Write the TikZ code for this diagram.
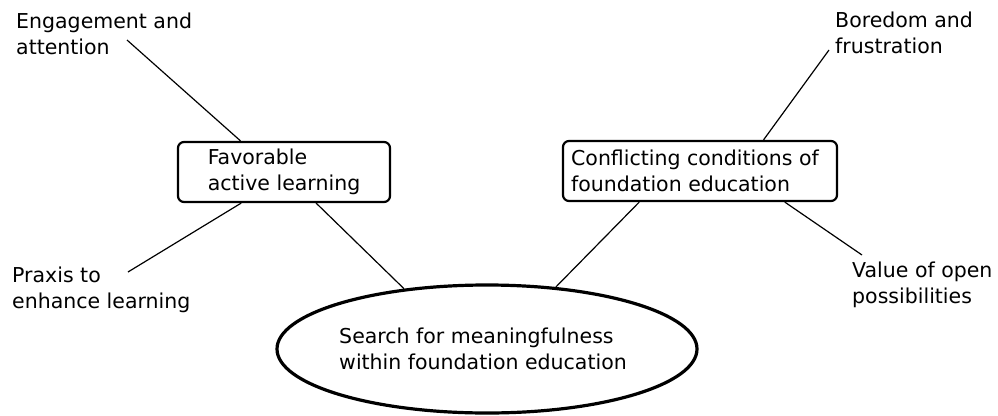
\documentclass[tikz,border=0pt]{standalone}
\usepackage{fontspec}
\setmainfont{DejaVu Sans}
\usetikzlibrary{shapes.geometric,calc}
\begin{document}
\begin{tikzpicture}[x=1pt,y=-1pt,
  every node/.style={font=\fontsize{20.5}{26}\selectfont},
  lbl/.style={anchor=base west,inner sep=0pt,align=left},
  themebox/.style={draw,line width=2.2pt,rounded corners=6pt,align=left,inner sep=0pt},
  coreell/.style={draw,ellipse,line width=3.2pt,align=left,inner sep=0pt,minimum width=420pt,minimum height=128pt},
  link/.style={line width=1.2pt}]
\useasboundingbox (0,0) rectangle (998,415);
\node[themebox,minimum width=212pt,minimum height=60pt] (fav) at (284,172) {Favorable\\active learning};
\node[themebox,minimum width=274pt,minimum height=60pt] (con) at (700,171) {Conflicting conditions of\hspace*{10pt}\\foundation education};
\node[coreell] (core) at (487,349) {Search for meaningfulness\\within foundation education\hspace*{8pt}};
\node[lbl] (eng) at (16,54) {Engagement and\\attention};
\node[lbl] (bor) at (835,53) {Boredom and\\frustration};
\node[lbl] (pra) at (12,308) {Praxis to\\enhance learning};
\node[lbl] (val) at (852,303) {Value of open\\possibilities};
\coordinate (engend) at (127,40);
\coordinate (borend) at (829,50);
\coordinate (praend) at (128,272);
\coordinate (valend) at (862,255);
\draw[link] (engend) -- ($(fav.north west)!0.297!(fav.north east)$);
\draw[link] (praend) -- ($(fav.south west)!0.30!(fav.south east)$);
\draw[link] ($(fav.south west)!0.65!(fav.south east)$) -- (core.144);
\draw[link] ($(con.south west)!0.28!(con.south east)$) -- (core.42);
\draw[link] (borend) -- ($(con.north west)!0.73!(con.north east)$);
\draw[link] (valend) -- ($(con.south west)!0.807!(con.south east)$);
\end{tikzpicture}
\end{document}
